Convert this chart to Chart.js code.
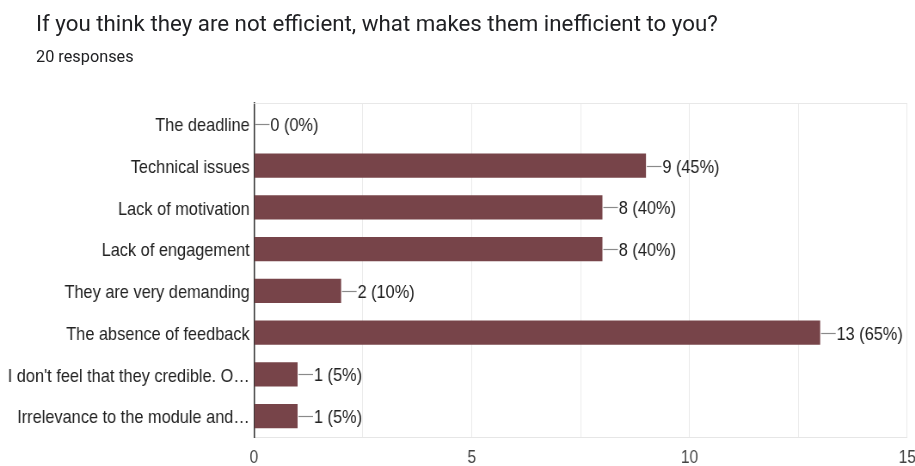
<!DOCTYPE html>
<html>
<head>
<meta charset="utf-8">
<script src="https://cdn.jsdelivr.net/npm/chart.js@4.4.1/dist/chart.umd.min.js"></script>
<style>
  html, body { margin: 0; padding: 0; background: #fff; overflow: hidden; }
  #title { position: absolute; left: 36px; top: 10px; font-family: Roboto, sans-serif; font-size: 22.3px; color: #202124; white-space: nowrap; }
  #sub { position: absolute; left: 36px; top: 47px; font-family: Roboto, sans-serif; font-size: 16.3px; color: #202124; white-space: nowrap; }
  #wrap { position: absolute; left: 0; top: 0; transform: scaleX(0.86); transform-origin: 0 0; }
</style>
</head>
<body>
<div id="wrap"><canvas id="bar" width="1075" height="466"></canvas></div>
<div id="title">If you think they are not efficient, what makes them inefficient to you?</div>
<div id="sub">20 responses</div>
<script>
const categories = [
  "The deadline",
  "Technical issues",
  "Lack of motivation",
  "Lack of engagement",
  "They are very demanding",
  "The absence of feedback",
  "I don't feel that they credible. O\u2026",
  "Irrelevance to the module and\u2026",
];
const counts = [0, 9, 8, 8, 2, 13, 1, 1];
const percents = [0, 45, 40, 40, 10, 65, 5, 5];
const xTicks = [0, 5, 10, 15];

const SX = 0.86;
const FONT = "'Liberation Sans', Arial, sans-serif";

// leader line + "n (p%)" after each bar
const valueLabels = {
  id: "valueLabels",
  afterDatasetsDraw(chart) {
    const ctx = chart.ctx;
    const meta = chart.getDatasetMeta(0);
    ctx.save();
    ctx.font = "19px " + FONT;
    ctx.textBaseline = "middle";
    ctx.textAlign = "left";
    meta.data.forEach((bar, i) => {
      const x = bar.x, y = Math.round(bar.y);
      ctx.strokeStyle = "#8a8a8a";
      ctx.lineWidth = 1.2;
      ctx.beginPath();
      ctx.moveTo(x + 1, y + 0.5);
      ctx.lineTo(x + 18, y + 0.5);
      ctx.stroke();
      ctx.fillStyle = "#222";
      ctx.fillText(counts[i] + " (" + percents[i] + "%)", x + 19, y + 2);
    });
    ctx.restore();
  },
};

// light line on top of the plot
const frame = {
  id: "frame",
  beforeDatasetsDraw(chart) {
    const a = chart.chartArea, ctx = chart.ctx;
    ctx.save();
    ctx.strokeStyle = "#e8e8e8";
    ctx.lineWidth = 1;
    ctx.beginPath();
    ctx.moveTo(a.left, a.top + 0.5);
    ctx.lineTo(a.right, a.top + 0.5);
    ctx.stroke();
    ctx.restore();
  },
};

new Chart(document.getElementById("bar"), {
  type: "bar",
  data: {
    labels: categories,
    datasets: [{
      data: counts,
      backgroundColor: "#774449",
      barPercentage: 0.58,
      categoryPercentage: 1,
    }],
  },
  options: {
    indexAxis: "y",
    responsive: false,
    animation: false,
    devicePixelRatio: 1,
    layout: { padding: { top: 103, right: 0, bottom: 0, left: 0 } },
    plugins: { legend: { display: false }, tooltip: { enabled: false } },
    scales: {
      x: {
        min: xTicks[0],
        max: xTicks[xTicks.length - 1],
        ticks: {
          stepSize: 2.5,
          autoSkip: false,
          maxRotation: 0,
          padding: 10,
          color: "#444",
          font: { family: FONT, size: 18 },
          callback: (v) => (xTicks.includes(v) ? v : ""),
        },
        grid: { color: "#ebebeb", drawTicks: false },
        border: { color: "#e6e6e6" },
        afterFit: (s) => { s.height = 29; },
      },
      y: {
        ticks: {
          autoSkip: false,
          padding: 5,
          labelOffset: 2,
          color: "#222",
          font: { family: FONT, size: 19 },
        },
        grid: { display: false, drawTicks: false },
        border: { color: "#333", width: 1.5 },
        afterFit: (s) => { s.width = 254 / SX; },
      },
    },
  },
  plugins: [frame, valueLabels],
});
</script>
</body>
</html>
